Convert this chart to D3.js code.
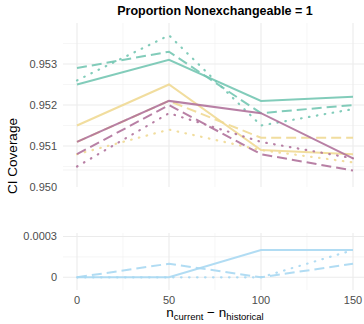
<!DOCTYPE html>
<html><head><meta charset="utf-8">
<script src="https://cdn.jsdelivr.net/npm/d3@7/dist/d3.min.js"></script>
<style>body{margin:0;background:#fff}svg{display:block}</style>
</head><body>
<svg id="c" width="364" height="324"></svg>
<script>
const xs = [0, 50, 100, 150];
const tealSolid  = [0.9525, 0.9531, 0.9521, 0.9522];
const tealDash   = [0.9529, 0.9533, 0.9518, 0.9520];
const tealDot    = [0.9526, 0.9537, 0.9515, 0.9519];
const yelSolid   = [0.9515, 0.9525, 0.9509, 0.9508];
const yelDash    = [0.9511, 0.9521, 0.9512, 0.9512];
const yelDot     = [0.9508, 0.9514, 0.9509, 0.9506];
const purSolid   = [0.9511, 0.9521, 0.9518, 0.9507];
const purDash    = [0.9508, 0.9520, 0.9508, 0.9504];
const purDot     = [0.9505, 0.9518, 0.9511, 0.9507];
const blueSolid  = [0, 0, 0.0002, 0.0002];
const blueDash   = [0, 0.0001, 0, 0.0001];
const blueDot    = [0, 0, 0, 0.0002];
const xTicks = [0, 50, 100, 150];
const upperTicks = [0.950, 0.951, 0.952, 0.953];
const lowerTicks = [0, 0.0003];

const colors = {teal:"#74c7b2", yel:"#efd994", pur:"#b0729b", blue:"#a9d8f2"};
const dashes = {solid:null, dash:"10,5", dot:"0.6,7.4"};

const svg = d3.select("#c");
const x = d3.scaleLinear().domain([-7.5, 157.5]).range([63.2, 366.8]);
const yU = d3.scaleLinear().domain([0.950, 0.954]).range([187, 23]);
const yL = d3.scaleLinear().domain([-0.0000934, 0.000326]).range([290, 233]);

function grid(y, top, bot, majorY, minorY, extra) {
  const g = svg.append("g");
  [25, 75, 125].forEach(v => g.append("line").attr("x1", x(v)).attr("x2", x(v)).attr("y1", top).attr("y2", bot).attr("stroke", "#f0f0f0").attr("stroke-width", 0.6));
  minorY.forEach(v => g.append("line").attr("x1", 63).attr("x2", 364).attr("y1", y(v)).attr("y2", y(v)).attr("stroke", "#f0f0f0").attr("stroke-width", 0.6));
  (extra||[]).forEach(v => g.append("line").attr("x1", 63).attr("x2", 364).attr("y1", v).attr("y2", v).attr("stroke", "#f0f0f0").attr("stroke-width", 0.8));
  xTicks.forEach(v => g.append("line").attr("x1", x(v)).attr("x2", x(v)).attr("y1", top).attr("y2", bot).attr("stroke", "#ebebeb").attr("stroke-width", 1.1));
  majorY.forEach(v => g.append("line").attr("x1", 63).attr("x2", 364).attr("y1", y(v)).attr("y2", y(v)).attr("stroke", "#ebebeb").attr("stroke-width", 1.1));
}
grid(yU, 23, 187, [0.951, 0.952, 0.953], [0.9505, 0.9515, 0.9525, 0.9535], [170]);
grid(yL, 233, 290, lowerTicks, [0.00015], []);

function drawLine(y, vals, col, dash) {
  const line = d3.line().x((d, i) => x(xs[i])).y(d => y(d));
  const isDot = dash === dashes.dot;
  const p = svg.append("path").datum(vals).attr("d", line).attr("fill", "none")
    .attr("stroke", col).attr("stroke-width", isDot ? 2.2 : 2).attr("stroke-opacity", 0.9)
    .attr("stroke-linecap", isDot ? "round" : "butt");
  if (dash) p.attr("stroke-dasharray", dash);
}
const upperSeries = [
  [tealSolid, colors.teal, dashes.solid], [tealDash, colors.teal, dashes.dash], [tealDot, colors.teal, dashes.dot],
  [yelSolid, colors.yel, dashes.solid], [yelDash, colors.yel, dashes.dash], [yelDot, colors.yel, dashes.dot],
  [purSolid, colors.pur, dashes.solid], [purDash, colors.pur, dashes.dash], [purDot, colors.pur, dashes.dot]
];
upperSeries.forEach(s => drawLine(yU, s[0], s[1], s[2]));
[[blueSolid, dashes.solid], [blueDash, dashes.dash], [blueDot, dashes.dot]].forEach(s => drawLine(yL, s[0], colors.blue, s[1]));

// y tick labels
const fmtU = d3.format(".3f");
upperTicks.forEach(v => svg.append("text").attr("x", 57).attr("y", yU(v)).attr("dy", "0.35em")
  .attr("text-anchor", "end").attr("font-family", "Liberation Sans, Arial, sans-serif").attr("font-size", 11).attr("fill", "#4d4d4d").text(fmtU(v)));
lowerTicks.forEach(v => svg.append("text").attr("x", 57).attr("y", yL(v)).attr("dy", "0.35em")
  .attr("text-anchor", "end").attr("font-family", "Liberation Sans, Arial, sans-serif").attr("font-size", 11).attr("fill", "#4d4d4d").text(v === 0 ? "0" : String(v)));
// x tick labels
xTicks.forEach(v => svg.append("text").attr("x", x(v)).attr("y", 304).attr("text-anchor", "middle")
  .attr("font-family", "Liberation Sans, Arial, sans-serif").attr("font-size", 11).attr("fill", "#4d4d4d").text(v));

// title
svg.append("text").attr("x", 215).attr("y", 15).attr("text-anchor", "middle")
  .attr("font-family", "Liberation Sans, Arial, sans-serif").attr("font-size", 12.5).attr("font-weight", "bold").attr("fill", "#000")
  .text("Proportion Nonexchangeable = 1");
// y title
svg.append("text").attr("transform", "translate(17,156) rotate(-90)").attr("text-anchor", "middle")
  .attr("font-family", "Liberation Sans, Arial, sans-serif").attr("font-size", 13.5).attr("fill", "#000").text("CI Coverage");
// x title
const xt = svg.append("text").attr("x", 215).attr("y", 317).attr("text-anchor", "middle")
  .attr("font-family", "Liberation Sans, Arial, sans-serif").attr("font-size", 13.5).attr("fill", "#000");
xt.append("tspan").text("n");
xt.append("tspan").attr("font-size", 9.5).attr("dy", 3).text("current");
xt.append("tspan").attr("dy", -3).text(" − n");
xt.append("tspan").attr("font-size", 9.5).attr("dy", 3).text("historical");
</script>
</body></html>
